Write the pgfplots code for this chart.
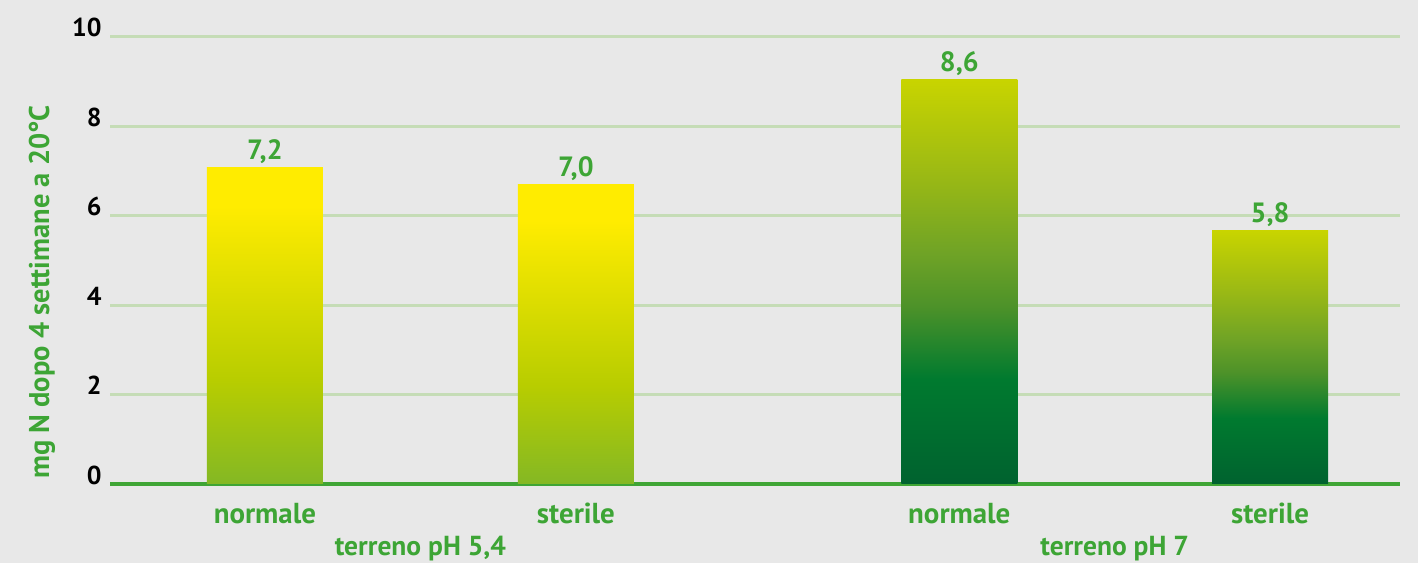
\documentclass[border=0pt]{standalone}
\usepackage{pgfplots}
\pgfplotsset{compat=1.18}
\usepackage{fontspec}
\setmainfont{PT Sans}
\definecolor{bg}{HTML}{E8E8E8}
\definecolor{txtgreen}{HTML}{3DA535}
\definecolor{gridgreen}{HTML}{C5DCB6}
\definecolor{axgreen}{HTML}{3FA535}
\definecolor{ytop}{HTML}{FFEC00}
\definecolor{ymid}{HTML}{B8CD00}
\definecolor{ybot}{HTML}{84B824}
\definecolor{gtop}{HTML}{C8D400}
\definecolor{g1}{HTML}{9CBA14}
\definecolor{g2}{HTML}{6FA326}
\definecolor{g3}{HTML}{4D9229}
\definecolor{g4}{HTML}{007A2F}
\definecolor{gbot}{HTML}{00622F}
\pgfdeclareverticalshading{yelbar}{100bp}{color(0bp)=(ybot); color(25bp)=(ybot); color(41.5bp)=(ymid); color(69bp)=(ytop); color(100bp)=(ytop)}
\pgfdeclareverticalshading{grnbar}{100bp}{color(0bp)=(gbot); color(25bp)=(gbot); color(38bp)=(g4); color(47bp)=(g3); color(53.5bp)=(g2); color(63.5bp)=(g1); color(75bp)=(gtop); color(100bp)=(gtop)}
\begin{document}
\begin{tikzpicture}
\path[use as bounding box, fill=bg] (0,0) rectangle (709bp,281.5bp);
\begin{axis}[
  at={(55bp,39.5bp)}, anchor=south west,
  scale only axis, width=645bp, height=223.5bp,
  xmin=-0.498, xmax=3.650, ymin=0, ymax=10,
  axis x line*=bottom, axis y line*=left,
  y axis line style={draw=none},
  x axis line style={draw=axgreen, line width=1.7bp, -},
  ytick={0,2,4,6,8,10},
  xtick={0,1,2.233,3.232},
  xticklabels={normale,sterile,normale,sterile},
  major tick length=0pt,
  ymajorgrids, grid style={draw=gridgreen, line width=1.5bp},
  yticklabel style={font=\fontsize{13}{15}\selectfont\bfseries, text=black, anchor=base east, inner sep=0pt, xshift=-4bp},
  xticklabel style={font=\fontsize{14.5}{16}\selectfont\bfseries, text=txtgreen, anchor=base, inner sep=0pt, yshift=-19.5bp},
  /pgf/number format/assume math mode=true,
  bar width=0.373,
  clip=false,
  nodes near coords,
  point meta=explicit symbolic,
  nodes near coords style={font=\fontsize{14}{16}\selectfont\bfseries, text=txtgreen, anchor=base, inner sep=0pt, yshift=4bp},
  every axis plot/.append style={ybar, bar shift=0pt, draw=none},
]
\addplot[shading=yelbar] coordinates {(0,7.07) [7,2]};
\addplot[shading=yelbar] coordinates {(1,6.69) [7,0]};
\addplot[shading=grnbar] coordinates {(2.233,9.04) [8,6]};
\addplot[shading=grnbar] coordinates {(3.232,5.66) [5,8]};
\node[font=\fontsize{13.8}{16}\selectfont\bfseries, text=txtgreen, anchor=base, inner sep=0pt] at (axis cs:0.5,0) [yshift=-35.8bp] {terreno pH 5,4};
\node[font=\fontsize{13.8}{16}\selectfont\bfseries, text=txtgreen, anchor=base, inner sep=0pt] at (axis cs:2.7325,0) [yshift=-35.8bp] {terreno pH 7};
\end{axis}
\node[rotate=90, font=\fontsize{14.3}{16}\selectfont\bfseries, text=txtgreen, inner sep=0pt] at (21bp,135.5bp) {mg N dopo 4 settimane a 20°C};
\end{tikzpicture}
\end{document}
